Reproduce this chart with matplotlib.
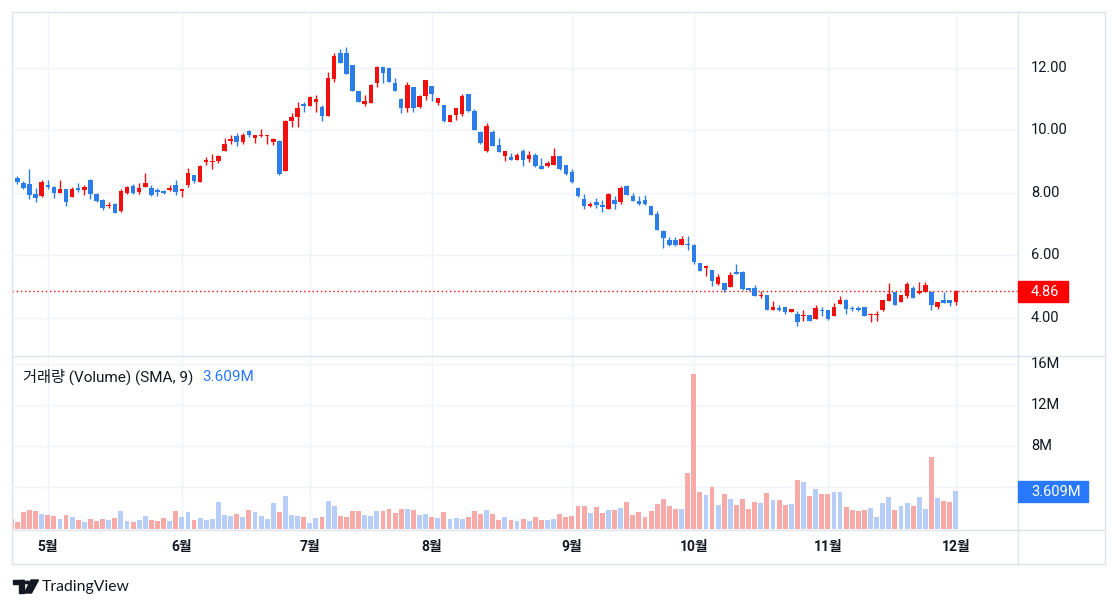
import matplotlib
matplotlib.use("Agg")
import matplotlib.pyplot as plt
from matplotlib.patches import Rectangle, Circle, Polygon
from matplotlib.lines import Line2D
from matplotlib.transforms import blended_transform_factory
import numpy as np

plt.rcParams['font.family'] = ['Roboto', 'Noto Sans CJK KR', 'DejaVu Sans']

# daily OHLC, index 0 = 2023-04-21 ... index 155 = 2023-12-01
opens = [
    8.52, 8.49, 8.33, 8.29, 7.97, 7.91, 8.26, 8.20, 8.00, 8.13,
    7.88, 8.17, 8.10, 8.42, 7.97, 7.78, 7.58, 7.65, 7.43, 8.00,
    8.23, 8.04, 8.20, 8.17, 8.10, 8.07, 8.10, 8.26, 8.05, 8.26,
    8.58, 8.34, 8.98, 8.99, 9.03, 9.33, 9.68, 9.83, 9.62, 9.97,
    9.75, 9.83, 9.83, 9.62, 9.67, 8.69, 10.29, 10.42, 10.84, 10.77,
    10.92, 10.74, 10.47, 11.64, 12.47, 12.47, 12.10, 11.27, 10.84, 10.87,
    11.53, 12.02, 11.99, 11.51, 11.01, 10.73, 11.38, 10.75, 11.09, 11.42,
    10.89, 10.80, 10.26, 10.50, 10.52, 11.17, 10.61, 9.94, 9.33, 9.94,
    9.54, 9.19, 9.14, 9.06, 9.33, 9.10, 9.22, 8.87, 8.87, 8.90,
    9.19, 8.90, 8.66, 8.16, 7.81, 7.57, 7.70, 7.62, 7.49, 7.76,
    7.71, 8.21, 7.91, 7.75, 7.76, 7.59, 7.34, 6.77, 6.50, 6.48,
    6.32, 6.38, 6.35, 5.76, 5.60, 5.55, 5.09, 5.12, 4.98, 5.46,
    5.47, 4.96, 4.96, 4.69, 4.72, 4.27, 4.32, 4.35, 4.18, 4.14,
    4.06, 4.08, 3.97, 4.27, 4.24, 4.05, 4.46, 4.56, 4.32, 4.33,
    4.34, 4.08, 4.09, 4.25, 4.56, 4.82, 4.52, 4.72, 4.96, 4.80,
    4.83, 4.83, 4.34, 4.59, 4.59, 4.52]
highs = [
    8.58, 8.53, 8.39, 8.77, 8.16, 8.42, 8.40, 8.23, 8.42, 8.13,
    8.19, 8.33, 8.26, 8.45, 8.00, 7.80, 7.72, 7.69, 8.13, 8.23,
    8.30, 8.33, 8.65, 8.26, 8.17, 8.10, 8.26, 8.42, 8.14, 8.80,
    8.58, 8.90, 9.15, 9.24, 9.22, 9.75, 9.86, 9.91, 9.91, 10.02,
    9.86, 10.04, 9.87, 9.77, 9.69, 10.33, 10.57, 10.92, 10.92, 11.10,
    11.14, 10.82, 11.88, 12.49, 12.60, 12.66, 12.10, 11.27, 11.14, 11.50,
    12.06, 12.02, 11.99, 11.67, 11.03, 11.56, 11.38, 11.14, 11.62, 11.42,
    11.03, 10.80, 10.50, 10.71, 11.17, 11.17, 10.68, 9.99, 10.25, 10.02,
    9.75, 9.33, 9.27, 9.29, 9.40, 9.35, 9.27, 9.12, 9.04, 9.43,
    9.19, 8.90, 8.77, 8.19, 7.97, 7.70, 7.85, 7.78, 8.00, 7.89,
    8.21, 8.26, 8.00, 7.89, 7.92, 7.59, 7.41, 6.81, 6.60, 6.58,
    6.63, 6.63, 6.38, 5.76, 5.71, 5.55, 5.41, 5.12, 5.46, 5.73,
    5.50, 4.96, 5.06, 4.86, 4.72, 4.56, 4.43, 4.35, 4.30, 4.21,
    4.27, 4.11, 4.43, 4.35, 4.24, 4.48, 4.72, 4.62, 4.38, 4.40,
    4.34, 4.16, 4.21, 4.59, 5.12, 4.82, 4.74, 5.14, 5.04, 5.14,
    5.14, 4.86, 4.52, 4.82, 4.59, 4.90]
lows = [
    8.40, 8.28, 8.13, 7.81, 7.70, 7.86, 8.12, 7.85, 8.00, 7.59,
    7.86, 8.02, 7.94, 7.81, 7.72, 7.46, 7.52, 7.35, 7.40, 7.98,
    7.98, 7.97, 8.18, 7.91, 7.91, 7.98, 8.07, 7.94, 7.86, 8.19,
    8.31, 8.34, 8.88, 8.77, 8.97, 9.33, 9.56, 9.51, 9.58, 9.78,
    9.60, 9.80, 9.56, 9.55, 8.58, 8.69, 10.11, 10.11, 10.60, 10.77,
    10.60, 10.31, 10.47, 11.56, 12.17, 11.80, 11.25, 10.90, 10.77, 10.87,
    11.40, 11.53, 11.55, 11.25, 10.55, 10.60, 10.60, 10.73, 10.98, 10.93,
    10.80, 10.26, 10.26, 10.34, 10.45, 10.58, 10.00, 9.58, 9.30, 9.49,
    9.30, 9.01, 9.06, 9.06, 8.87, 9.00, 8.83, 8.78, 8.82, 8.88,
    8.74, 8.58, 8.32, 7.86, 7.49, 7.55, 7.52, 7.38, 7.49, 7.49,
    7.65, 7.92, 7.73, 7.62, 7.62, 7.28, 6.80, 6.24, 6.30, 6.29,
    6.32, 6.19, 5.73, 5.49, 5.35, 5.02, 5.07, 4.82, 4.98, 5.41,
    4.91, 4.85, 4.69, 4.64, 4.27, 4.27, 4.24, 4.14, 4.18, 3.74,
    3.89, 3.89, 3.97, 4.05, 3.95, 4.05, 4.46, 4.14, 4.24, 4.24,
    4.05, 3.87, 3.92, 4.22, 4.56, 4.43, 4.50, 4.64, 4.64, 4.78,
    4.83, 4.25, 4.30, 4.48, 4.40, 4.43]
closes = [
    8.44, 8.36, 8.17, 7.94, 7.85, 8.36, 8.20, 8.00, 8.13, 7.72,
    8.13, 8.10, 8.20, 7.97, 7.75, 7.53, 7.62, 7.37, 8.07, 8.20,
    8.00, 8.17, 8.33, 7.94, 8.04, 8.00, 8.17, 8.02, 8.13, 8.65,
    8.39, 8.85, 9.06, 9.01, 9.19, 9.57, 9.73, 9.63, 9.86, 9.84,
    9.86, 9.85, 9.87, 9.72, 8.60, 10.29, 10.43, 10.71, 10.77, 11.06,
    11.00, 10.45, 11.67, 12.38, 12.17, 11.80, 11.28, 10.90, 10.94, 11.46,
    12.04, 11.83, 11.56, 11.25, 10.71, 11.46, 10.71, 11.11, 11.62, 11.16,
    11.03, 10.29, 10.50, 10.71, 11.12, 10.61, 10.00, 9.60, 10.15, 9.51,
    9.30, 9.33, 9.06, 9.22, 9.06, 9.22, 8.85, 8.78, 8.95, 9.19,
    8.76, 8.61, 8.34, 7.89, 7.57, 7.65, 7.62, 7.55, 7.97, 7.65,
    8.16, 7.94, 7.73, 7.65, 7.65, 7.28, 6.80, 6.56, 6.35, 6.32,
    6.54, 6.32, 5.79, 5.51, 5.65, 5.17, 5.31, 4.91, 5.39, 5.41,
    4.93, 4.91, 4.69, 4.75, 4.27, 4.35, 4.27, 4.18, 4.30, 3.86,
    4.11, 3.89, 4.32, 4.21, 3.97, 4.35, 4.56, 4.29, 4.28, 4.27,
    4.05, 4.13, 4.13, 4.59, 4.78, 4.43, 4.72, 5.10, 4.64, 4.88,
    5.07, 4.41, 4.50, 4.48, 4.48, 4.86]
# volume in millions
volumes = [
    0.90, 0.67, 1.58, 1.81, 1.71, 1.42, 1.32, 1.26, 0.93, 1.32,
    1.13, 0.83, 0.61, 0.93, 0.74, 0.93, 0.83, 1.06, 1.71, 0.74,
    0.64, 0.83, 1.22, 0.83, 0.77, 1.03, 0.74, 1.71, 1.16, 1.61,
    0.83, 1.03, 0.83, 0.93, 2.58, 1.32, 1.22, 1.42, 1.16, 1.81,
    1.61, 1.26, 0.93, 2.49, 1.61, 3.17, 1.29, 1.26, 1.16, 0.54,
    1.03, 1.16, 2.68, 2.19, 1.22, 1.13, 1.71, 1.71, 1.32, 1.22,
    1.71, 1.71, 1.90, 1.51, 1.90, 1.90, 1.81, 1.32, 1.42, 1.13,
    1.03, 1.61, 0.93, 1.03, 0.93, 1.13, 1.71, 1.42, 1.81, 1.42,
    0.83, 1.13, 0.83, 0.74, 0.93, 0.74, 1.13, 0.83, 0.83, 0.93,
    1.42, 1.13, 1.22, 2.19, 2.19, 1.51, 2.10, 1.51, 1.81, 1.81,
    2.00, 2.58, 1.32, 1.61, 1.13, 1.71, 2.39, 2.87, 2.19, 1.90,
    1.90, 5.36, 15.0, 3.55, 3.26, 4.04, 2.29, 3.36, 2.87, 2.29,
    2.87, 1.90, 2.58, 2.49, 3.46, 2.78, 2.78, 2.29, 2.39, 4.72,
    4.52, 3.17, 3.85, 3.36, 3.36, 3.55, 3.55, 2.10, 1.81, 1.71,
    1.81, 2.00, 1.13, 2.49, 3.07, 1.81, 2.19, 2.49, 2.19, 3.07,
    1.90, 6.95, 2.97, 2.68, 2.58, 3.609]

month_idx = [6, 28, 49, 69, 92, 112, 134, 155]
month_labels = ['5월', '6월', '7월', '8월', '9월', '10월', '11월', '12월']
price_ticks = [4, 6, 8, 10, 12]
vol_ticks = [8, 12, 16]
last_price = 4.86
last_volume = 3.609

UP = '#F01010'
DOWN = '#2B7DE9'
VOL_UP = '#B7CFF8'
VOL_DOWN = '#F8AAA9'
GRID = '#F0F3FA'
BORDER = '#E0E3EB'
TXT = '#131722'

o = np.array(opens); h = np.array(highs); l = np.array(lows); c = np.array(closes)
v = np.array(volumes)
x = np.arange(len(o))
up = c >= o

W, H = 1118, 609
fig = plt.figure(figsize=(W / 100, H / 100), dpi=100)
fx = lambda px: px / W
fy = lambda py: 1 - py / H

ax = fig.add_axes([fx(12), fy(356), (1018 - 12) / W, (356 - 12) / H])
axv = fig.add_axes([fx(12), fy(530), (1018 - 12) / W, (530 - 356) / H])

xlim = (0.131, 165.2)
for a in (ax, axv):
    a.set_xlim(*xlim)
    for s in a.spines.values():
        s.set_visible(False)
    a.set_xticks([]); a.set_yticks([])
    for m in month_idx:
        a.axvline(m, color=GRID, lw=1, zorder=0)

ax.set_ylim(2.784, 13.792)
axv.set_ylim(-0.136, 16.76)
for p in price_ticks:
    ax.axhline(p, color=GRID, lw=1, zorder=0)
for vt in [4, 8, 12, 16]:
    axv.axhline(vt, color=GRID, lw=1, zorder=0)

# candles
cols = np.where(up, UP, DOWN)
ax.vlines(x, l, h, colors=cols, lw=1.0, zorder=2)
body_lo = np.minimum(o, c)
body_h = np.maximum(np.abs(c - o), 0.035)
ax.bar(x, body_h, bottom=body_lo, width=0.74, color=cols, zorder=3, lw=0)

# last price line
ax.axhline(last_price, color=UP, lw=1, ls=(0, (1, 2)), zorder=1)

# volume
axv.bar(x, v, width=0.8, color=np.where(up, VOL_UP, VOL_DOWN), lw=0, zorder=2)

# right axis labels
tr = blended_transform_factory(ax.transAxes, ax.transData)
lx = (1031 - 12) / (1018 - 12)
for p in price_ticks:
    ax.text(lx, p, f"{p:.2f}", transform=tr, ha='left', va='center',
            fontsize=10.5, color=TXT, clip_on=False)
trv = blended_transform_factory(axv.transAxes, axv.transData)
for vt in vol_ticks:
    axv.text(lx, vt, f"{vt}M", transform=trv, ha='left', va='center',
             fontsize=10.5, color=TXT, clip_on=False)

# price / volume badges
fig.patches.append(Rectangle((fx(1018), fy(302)), 50 / W, 21 / H,
                             transform=fig.transFigure, color='#FF0000', zorder=5))
fig.text(fx(1031), fy(291.5), f"{last_price:.2f}", ha='left', va='center',
         fontsize=10.5, color='white', zorder=6)
fig.patches.append(Rectangle((fx(1018), fy(502)), 70 / W, 21 / H,
                             transform=fig.transFigure, color='#2979FF', zorder=5))
fig.text(fx(1031), fy(491.5), f"{last_volume:.3f}M", ha='left', va='center',
         fontsize=10.5, color='white', zorder=6)

# legend line of the volume pane
fig.text(fx(23), fy(377), "거래량 (Volume) (SMA, 9)", ha='left', va='center',
         fontsize=11, color=TXT)
fig.text(fx(202), fy(377), f"{last_volume:.3f}M", ha='left', va='center',
         fontsize=11, color='#2979FF')

# month labels
trm = blended_transform_factory(axv.transData, fig.transFigure)
for m, lab in zip(month_idx, month_labels):
    axv.text(m, fy(547), lab, transform=trm, ha='center', va='center',
             fontsize=10, fontweight='bold', color=TXT, clip_on=False)

# frame lines
def hline(y, x0, x1):
    fig.add_artist(Line2D([fx(x0), fx(x1)], [fy(y), fy(y)], color=BORDER, lw=1))
def vline(xp, y0, y1):
    fig.add_artist(Line2D([fx(xp), fx(xp)], [fy(y0), fy(y1)], color=BORDER, lw=1))
hline(12, 12, 1105); hline(356, 12, 1105); hline(530, 12, 1105); hline(564, 12, 1105)
vline(12, 12, 564); vline(1018, 12, 564); vline(1105, 12, 564)

# TradingView logo
fig.patches.append(Rectangle((fx(13), fy(584)), 11 / W, 4 / H,
                             transform=fig.transFigure, color=TXT))
fig.patches.append(Rectangle((fx(19), fy(593)), 5 / W, 13 / H,
                             transform=fig.transFigure, color=TXT))
fig.patches.append(Circle((fx(27.5), fy(582.5)), 2.3 / W,
                          transform=fig.transFigure, color=TXT))
fig.patches.append(Polygon([(fx(31), fy(580)), (fx(38.5), fy(580)),
                            (fx(31.5), fy(593)), (fx(24.5), fy(593))],
                           closed=True, transform=fig.transFigure, color=TXT))
fig.text(fx(42), fy(587), "TradingView", ha='left', va='center',
         fontsize=11.3, color=TXT, family=['Lato', 'DejaVu Sans'])

fig.savefig("out.png", dpi=100, facecolor='white')
